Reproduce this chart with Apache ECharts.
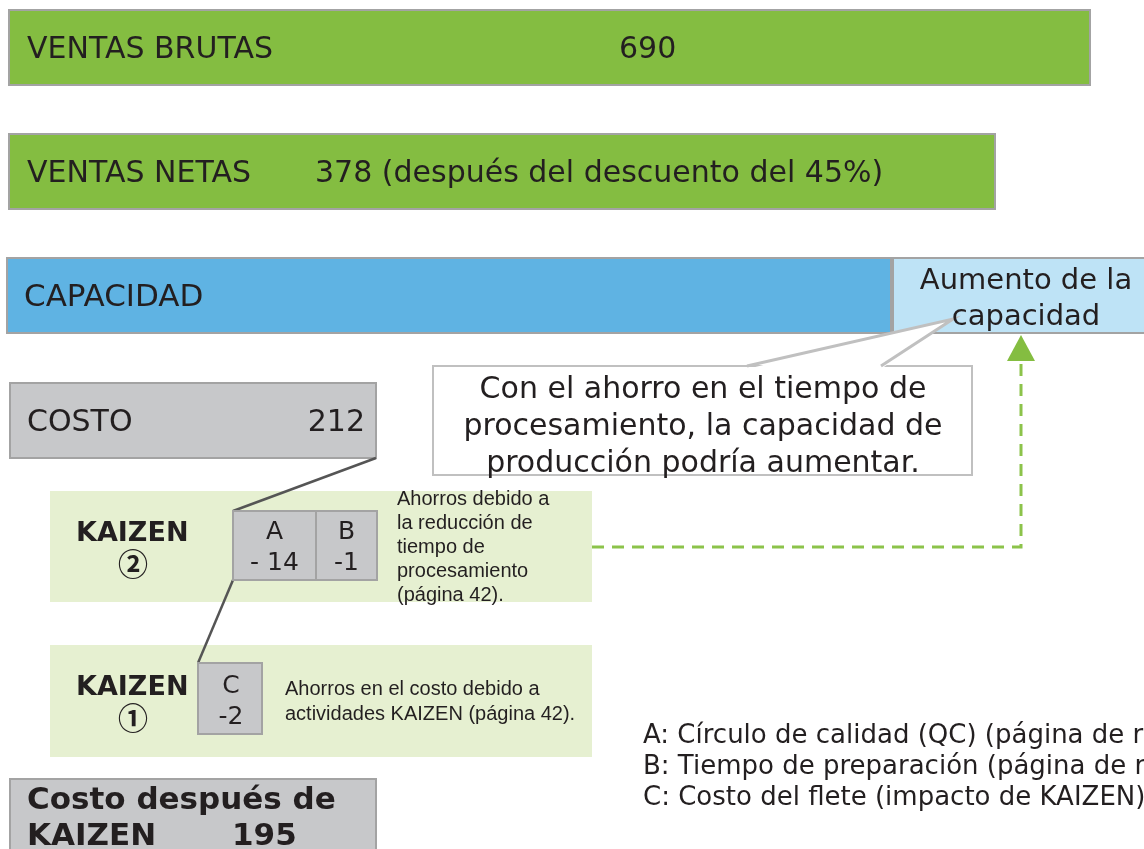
<!DOCTYPE html>
<html>
<head>
<meta charset="utf-8">
<script src="https://cdn.jsdelivr.net/npm/echarts@6/dist/echarts.min.js"></script>
<style>
  html, body { margin: 0; padding: 0; background: #fff; }
  #chart { width: 1144px; height: 849px; }
</style>
</head>
<body>
<div id="chart"></div>
<script>
// datos del diagrama
var ventasBrutas = 690;
var ventasNetas = 378;
var descuento = 45;
var costo = 212;
var kaizen2Items = ['A', 'B'];
var kaizen2Values = [-14, -1];
var kaizen1Items = ['C'];
var kaizen1Values = [-2];
var costoFinal = 195;
var leyenda = [
    'A: Círculo de calidad (QC) (página de referencia)',
    'B: Tiempo de preparación (página de referencia)',
    'C: Costo del flete (impacto de KAIZEN)'
];

var txt = '#231f20';
var borde = '#a3a3a3';
var sans = '"DejaVu Sans", sans-serif';
var arial = '"Liberation Sans", Arial, sans-serif';
var cjk = '"Noto Sans CJK JP", sans-serif';

function caja(x, y, w, h, fill, stroke) {
    return {
        type: 'rect',
        shape: { x: x, y: y, width: w, height: h },
        style: { fill: fill, stroke: stroke || borde, lineWidth: 2 }
    };
}

function texto(s, x, y, size, opts) {
    opts = opts || {};
    return {
        type: 'text',
        z: 10,
        style: {
            text: s,
            x: x,
            y: y,
            fill: txt,
            fontSize: size,
            fontFamily: opts.family || sans,
            fontWeight: opts.weight || 'normal',
            textAlign: opts.align || 'left',
            textVerticalAlign: 'middle',
            lineHeight: opts.lineHeight
        }
    };
}

function linea(points, color, width, dash) {
    return {
        type: 'polyline',
        shape: { points: points },
        style: { stroke: color, lineWidth: width, fill: null, lineDash: dash }
    };
}

function fmt(v) {
    // el original escribe "- 14" con espacio
    return Math.abs(v) >= 10 ? '- ' + Math.abs(v) : String(v);
}

var g = [];

// ventas
g.push(caja(9, 10, 1081, 75, '#84bd41'));
g.push(texto('VENTAS BRUTAS', 27, 50, 30));
g.push(texto(String(ventasBrutas), 619, 50, 30));

g.push(caja(9, 134, 986, 75, '#84bd41'));
g.push(texto('VENTAS NETAS', 27, 174, 30));
g.push(texto(ventasNetas + ' (después del descuento del ' + descuento + '%)', 315, 174, 30));

// capacidad
g.push(caja(7, 258, 884, 75, '#5fb3e3'));
g.push(texto('CAPACIDAD', 24, 298, 31));
g.push(caja(893, 258, 270, 75, '#bee3f6'));
g.push(texto('Aumento de la\ncapacidad', 1026, 299, 29, { align: 'center', lineHeight: 36 }));

// nota (callout)
g.push(caja(433, 366, 539, 109, '#ffffff', '#c0c0c0'));
g.push({
    type: 'polygon', z: 5,
    shape: { points: [[747, 369], [953, 319], [881, 369]] },
    style: { fill: '#ffffff' }
});
g.push(Object.assign(linea([[747, 366], [953, 319], [881, 366]], '#c0c0c0', 3), { z: 6 }));
g.push(texto('Con el ahorro en el tiempo de\nprocesamiento, la capacidad de\nproducción podría aumentar.', 703, 427, 30, { align: 'center', lineHeight: 37 }));

// costo
g.push(caja(10, 383, 366, 75, '#c7c8ca'));
g.push(texto('COSTO', 27, 423, 30));
g.push(texto(String(costo), 365, 423, 30, { align: 'right' }));

// paneles KAIZEN
g.push({ type: 'rect', shape: { x: 50, y: 491, width: 542, height: 111 }, style: { fill: '#e6f0d1' } });
g.push({ type: 'rect', shape: { x: 50, y: 645, width: 542, height: 112 }, style: { fill: '#e6f0d1' } });

// conectores
g.push(linea([[376, 458], [233, 511]], '#555555', 2.5));
g.push(linea([[233, 580], [198, 663]], '#555555', 2.5));

// KAIZEN 2
g.push(texto('KAIZEN', 76, 534, 27, { weight: 'bold' }));
g.push(texto('②', 133, 564, 30, { align: 'center', family: cjk, weight: 'bold' }));
kaizen2Items.forEach(function (item, i) {
    var x0 = i === 0 ? 233 : 316;
    var w = i === 0 ? 83 : 61;
    g.push(caja(x0, 511, w, 69, '#c7c8ca'));
    g.push(texto(item, x0 + w / 2, 532, 25, { align: 'center' }));
    g.push(texto(fmt(kaizen2Values[i]), x0 + w / 2, 563, 25, { align: 'center' }));
});
g.push(texto('Ahorros debido a\nla reducción de\ntiempo de\nprocesamiento\n(página 42).', 397, 547, 20, { family: arial, lineHeight: 24 }));

// KAIZEN 1
g.push(texto('KAIZEN', 76, 688, 27, { weight: 'bold' }));
g.push(texto('①', 133, 718, 30, { align: 'center', family: cjk, weight: 'bold' }));
kaizen1Items.forEach(function (item, i) {
    g.push(caja(198, 663, 64, 71, '#c7c8ca'));
    g.push(texto(item, 231, 686, 25, { align: 'center' }));
    g.push(texto(fmt(kaizen1Values[i]), 231, 717, 25, { align: 'center' }));
});
g.push(texto('Ahorros en el costo debido a\nactividades KAIZEN (página 42).', 285, 702, 20, { family: arial, lineHeight: 25 }));

// flecha discontinua
g.push(linea([[592, 547], [1021, 547], [1021, 358]], '#8cc34a', 3, [12, 8]));
g.push({
    type: 'polygon',
    shape: { points: [[1007, 361], [1035, 361], [1021, 335]] },
    style: { fill: '#84bd41' }
});

// leyenda
leyenda.forEach(function (l, i) {
    g.push(texto(l, 643, 736 + i * 31, 26));
});

// costo después de KAIZEN
g.push(caja(10, 779, 366, 90, '#c7c8ca'));
g.push(texto('Costo después de', 27, 801, 31, { weight: 'bold' }));
g.push(texto('KAIZEN', 27, 837, 31, { weight: 'bold' }));
g.push(texto(String(costoFinal), 232, 837, 31, { weight: 'bold' }));

var myChart = echarts.init(document.getElementById('chart'));
myChart.setOption({
    animation: false,
    graphic: g
});
</script>
</body>
</html>
